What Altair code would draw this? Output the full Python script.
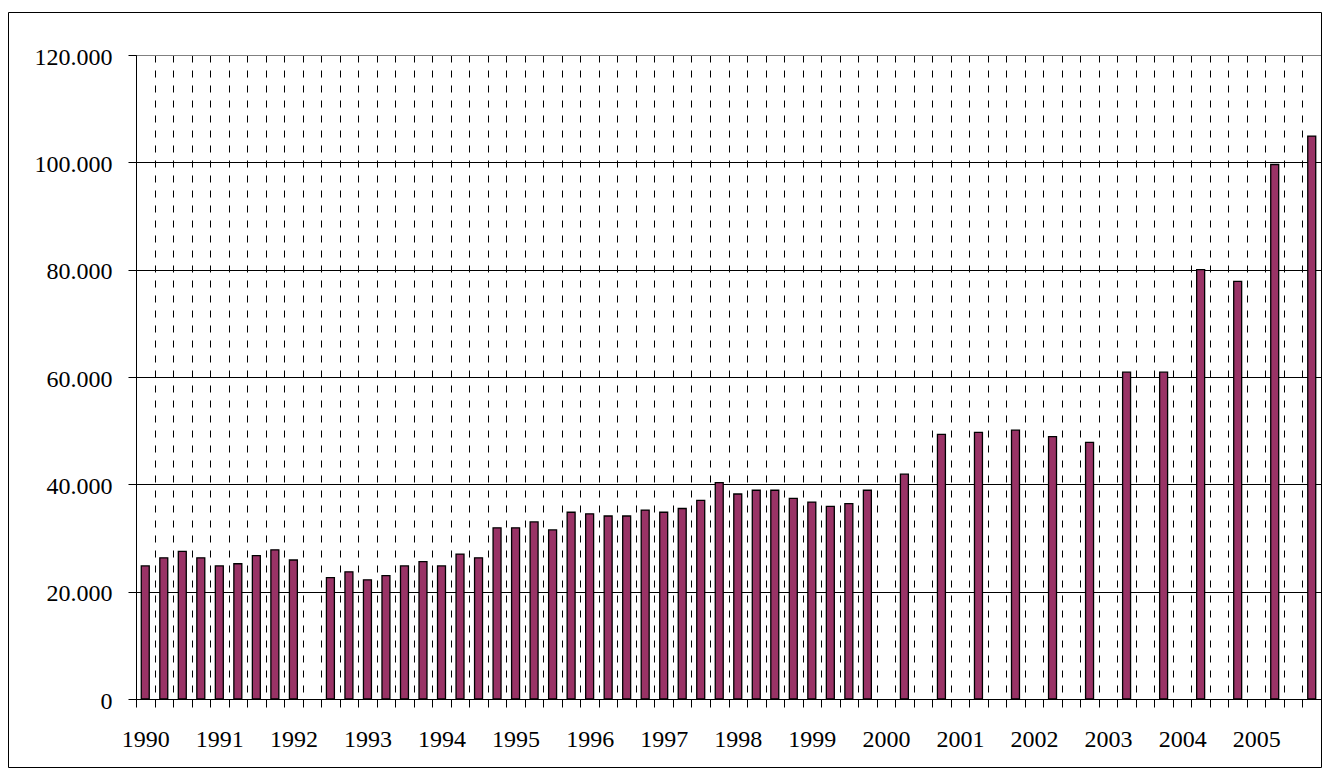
import altair as alt
import pandas as pd

quarters = [
    "1990-Q1", "1990-Q2", "1990-Q3", "1990-Q4",
    "1991-Q1", "1991-Q2", "1991-Q3", "1991-Q4",
    "1992-Q1", "1992-Q2", "1992-Q3", "1992-Q4",
    "1993-Q1", "1993-Q2", "1993-Q3", "1993-Q4",
    "1994-Q1", "1994-Q2", "1994-Q3", "1994-Q4",
    "1995-Q1", "1995-Q2", "1995-Q3", "1995-Q4",
    "1996-Q1", "1996-Q2", "1996-Q3", "1996-Q4",
    "1997-Q1", "1997-Q2", "1997-Q3", "1997-Q4",
    "1998-Q1", "1998-Q2", "1998-Q3", "1998-Q4",
    "1999-Q1", "1999-Q2", "1999-Q3", "1999-Q4",
    "2000-Q1", "2000-Q2", "2000-Q3", "2000-Q4",
    "2001-Q1", "2001-Q2", "2001-Q3", "2001-Q4",
    "2002-Q1", "2002-Q2", "2002-Q3", "2002-Q4",
    "2003-Q1", "2003-Q2", "2003-Q3", "2003-Q4",
    "2004-Q1", "2004-Q2", "2004-Q3", "2004-Q4",
    "2005-Q1", "2005-Q2", "2005-Q3", "2005-Q4",
]

values = [
    24800, 26300, 27500, 26300,
    24800, 25200, 26700, 27800,
    25900, None, 22600, 23700,
    22200, 23000, 24800, 25600,
    24800, 27000, 26300, 31900,
    31900, 33000, 31500, 34800,
    34500, 34100, 34100, 35200,
    34800, 35500, 37000, 40300,
    38200, 38900, 38900, 37400,
    36700, 35900, 36400, 38900,
    None, 41900, None, 49300,
    None, 49700, None, 50100,
    None, 48900, None, 47800,
    None, 60900, None, 60900,
    None, 80000, None, 77800,
    None, 99600, None, 104900,
]

y_ticks = [0, 20000, 40000, 60000, 80000, 100000, 120000]

df = pd.DataFrame({"quarter": quarters, "value": values}).dropna()

FONT = "Liberation Serif"

bars = alt.Chart(df).mark_bar(
    width=alt.RelativeBandSize(0.43),
    fill="#993366",
    stroke="black",
    strokeWidth=1.3,
).encode(
    x=alt.X(
        "quarter:N",
        sort=quarters,
        scale=alt.Scale(domain=quarters, paddingInner=0, paddingOuter=0),
        axis=alt.Axis(
            title=None,
            tickBand="extent",
            grid=True,
            gridColor="black",
            gridDash=[7, 8],
            gridWidth=1,
            ticks=True,
            tickSize=8,
            tickColor="black",
            domainColor="black",
            labelAngle=0,
            labelOverlap=False,
            labelExpr="isString(datum.value) && indexof(datum.value, 'Q1') >= 0 ? slice(datum.value, 0, 4) : ''",
            labelFont=FONT,
            labelFontSize=24,
            labelColor="black",
            labelPadding=20,
        ),
    ),
    y=alt.Y(
        "value:Q",
        scale=alt.Scale(domain=[0, 120000], nice=False),
        axis=alt.Axis(
            title=None,
            values=y_ticks,
            grid=True,
            gridColor={"condition": {"test": "datum.value === 120000", "value": "#808080"}, "value": "black"},
            gridWidth=1,
            tickSize=8,
            tickColor="black",
            domainColor="black",
            labelExpr="datum.value == 0 ? '0' : (floor(datum.value / 1000) + '.000')",
            labelFont=FONT,
            labelFontSize=24,
            labelColor="black",
            labelPadding=16,
            labelOffset=2,
        ),
    ),
)

frame = alt.Chart(pd.DataFrame({"f": [0]})).mark_rect(
    filled=False, stroke="black", strokeWidth=1
).encode(
    x=alt.value(-127.5),
    x2=alt.value(1185.5),
    y=alt.value(-42.5),
    y2=alt.value(712.5),
)

chart = alt.layer(bars, frame).properties(
    width=1185,
    height=644,
    autosize=alt.AutoSizeParams(type="none"),
    padding={"left": 128, "top": 47, "right": 1, "bottom": 69},
    background="white",
).configure_view(stroke="#808080", strokeWidth=1)

chart.save("out.html", embed_options={"renderer": "svg", "actions": False})
